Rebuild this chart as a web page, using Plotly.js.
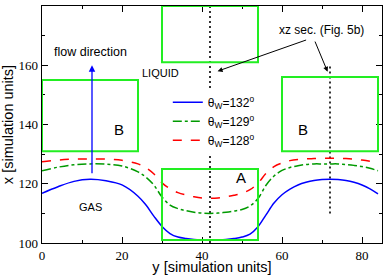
<!DOCTYPE html>
<html><head><meta charset="utf-8">
<script src="https://cdn.plot.ly/plotly-3.0.1.min.js"></script>
<style>html,body{margin:0;padding:0;background:#fff}#c{width:383px;height:275px}</style>
</head><body><div id="c"></div>
<script>
// y positions (simulation units)
const yPos = [0,4,8,12,16,20,24,26,28,30,32,34,36,38,40,42,44,46,48,50,52,54,56,58,60,62,64,66,68,70,72,74,76,78,80,82,84];
// interface positions x for each wetting angle
const x132 = [116.8,119.0,120.8,121.5,121.0,119.6,115.8,112.8,109.0,105.6,103.2,102.0,101.5,101.2,101.1,101.1,101.1,101.2,101.5,102.0,103.0,105.5,109.5,113.5,116.3,118.2,119.6,120.5,121.1,121.4,121.5,121.4,121.1,120.5,119.6,118.3,116.6];
const x129 = [124.4,125.6,126.4,126.7,126.6,126.0,124.0,122.2,119.5,115.5,112.8,111.6,110.9,110.4,110.1,110.0,110.1,110.4,110.8,111.3,112.5,115.0,119.5,122.6,124.5,125.5,126.1,126.5,126.7,126.7,126.7,126.7,126.5,126.2,125.8,125.2,124.4];
const x128 = [127.4,128.0,128.3,128.4,128.3,127.9,126.7,125.4,123.3,120.3,118.3,117.0,116.2,115.6,115.2,115.1,115.2,115.6,116.1,116.8,118.0,120.2,123.5,125.8,127.0,127.8,128.2,128.4,128.5,128.6,128.6,128.6,128.5,128.3,128.0,127.6,127.1];
const seriesNames = ['θ<sub>W</sub>=132<sup>o</sup>','θ<sub>W</sub>=129<sup>o</sup>','θ<sub>W</sub>=128<sup>o</sup>'];
// boxes: [y0, y1, x0, x1]
const boxTop = [30,54,161,180];
const boxA = [30,54,101,125];
const boxBLeft = [0,24,131,155];
const boxBRight = [60,84,131,156];
// xz sections
const sec1Y = [42,42], sec1X = [100,180];
const sec2Y = [72,72], sec2X = [110,160];

const font = 'Liberation Sans, Arial, sans-serif';
const serif = 'Liberation Serif, Times New Roman, serif';

const traces = [
  {x:sec1Y, y:sec1X, mode:'lines', line:{color:'#000', dash:'2px,3px', width:1.6}, showlegend:false, hoverinfo:'skip'},
  {x:sec2Y, y:sec2X, mode:'lines', line:{color:'#000', dash:'2px,3px', width:1.6}, showlegend:false, hoverinfo:'skip'},
  {x:yPos, y:x132, name:seriesNames[0], mode:'lines', line:{color:'#0000ff', width:1.5, shape:'spline'}},
  {x:yPos, y:x129, name:seriesNames[1], mode:'lines', line:{color:'#009a00', width:1.5, dash:'dashdot', shape:'spline'}},
  {x:yPos, y:x128, name:seriesNames[2], mode:'lines', line:{color:'#ff0000', width:1.5, dash:'dash', shape:'spline'}}
];

const boxes = [boxTop, boxA, boxBLeft, boxBRight].map(b => ({
  type:'rect', xref:'x', yref:'y', x0:b[0], x1:b[1], y0:b[2], y1:b[3],
  line:{color:'#22ee22', width:2}, fillcolor:'rgba(0,0,0,0)'
}));

const layout = {
  width:383, height:275,
  margin:{l:42, r:1, t:6, b:32},
  paper_bgcolor:'#fff', plot_bgcolor:'#fff',
  showlegend:true,
  legend:{x:0.37, y:0.655, xanchor:'left', yanchor:'top', bgcolor:'#fff', borderwidth:0,
    font:{family:font, size:12, color:'#000'}, tracegroupgap:0, itemwidth:30},
  xaxis:{range:[0,85], showgrid:false, zeroline:false, showline:true, linecolor:'#000', linewidth:1.3,
    mirror:'ticks', ticks:'inside', ticklen:6, tickcolor:'#000', tickvals:[0,20,40,60,80],
    minor:{ticks:'inside', ticklen:3, tickvals:[10,30,50,70], tickcolor:'#000'},
    tickfont:{family:serif, size:13, color:'#000'},
    title:{text:'y [simulation units]', font:{family:font, size:14.5, color:'#000'}, standoff:3}},
  yaxis:{range:[100,180], showgrid:false, zeroline:false, showline:true, linecolor:'#000', linewidth:1.3,
    mirror:'ticks', ticks:'inside', ticklen:6, tickcolor:'#000', tickvals:[100,120,140,160,180],
    minor:{ticks:'inside', ticklen:3, tickvals:[110,130,150,170], tickcolor:'#000'},
    tickfont:{family:serif, size:13, color:'#000'},
    title:{text:'x [simulation units]', font:{family:font, size:14.5, color:'#000'}, standoff:2}},
  shapes: boxes,
  annotations:[
    {x:12.1, y:164.4, text:'flow direction', showarrow:false, font:{family:font, size:12.5, color:'#000'}},
    {x:29.7, y:157.3, text:'LIQUID', showarrow:false, font:{family:font, size:11, color:'#000'}},
    {x:12.1, y:112.3, text:'GAS', showarrow:false, font:{family:font, size:11, color:'#000'}},
    {x:49.7, y:122.0, text:'A', showarrow:false, font:{family:font, size:15, color:'#000'}},
    {x:19.2, y:138.4, text:'B', showarrow:false, font:{family:font, size:15, color:'#000'}},
    {x:65.2, y:138.4, text:'B', showarrow:false, font:{family:font, size:15, color:'#000'}},
    {x:69.9, y:171.8, text:'xz sec. (Fig. 5b)', showarrow:false, font:{family:font, size:12, color:'#000'}},
    {x:43.9, y:158.0, ax:66.4, ay:168.7, axref:'x', ayref:'y', text:'', showarrow:true, arrowhead:2, arrowsize:1, arrowwidth:1, arrowcolor:'#000'},
    {x:71.4, y:157.8, ax:68.1, ay:168.5, axref:'x', ayref:'y', text:'', showarrow:true, arrowhead:2, arrowsize:1, arrowwidth:1, arrowcolor:'#000'},
    {x:12.5, y:160, ax:12.5, ay:123, axref:'x', ayref:'y', text:'', showarrow:true, arrowhead:2, arrowsize:1, arrowwidth:1.3, arrowcolor:'#0000ff'}
  ]
};
Plotly.newPlot('c', traces, layout, {staticPlot:true, displayModeBar:false});
</script></body></html>
